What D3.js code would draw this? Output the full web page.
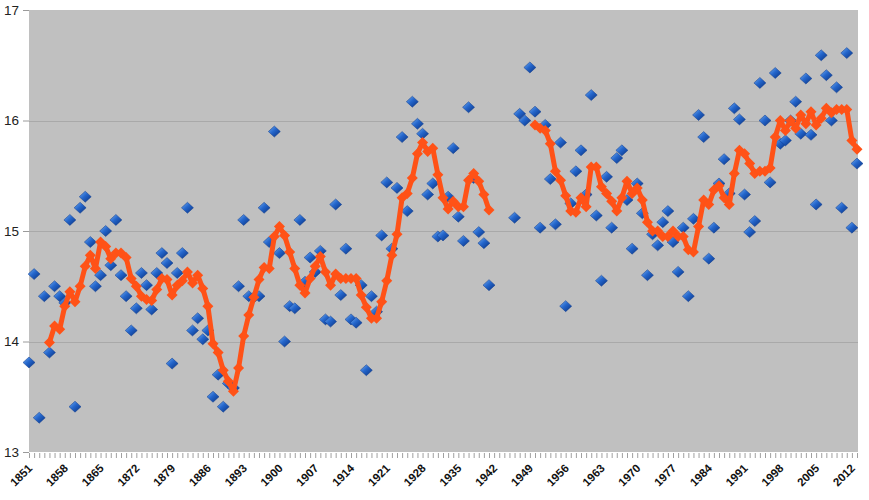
<!DOCTYPE html>
<html>
<head>
<meta charset="utf-8">
<script src="https://cdn.jsdelivr.net/npm/d3@7"></script>
<style>
  body { margin: 0; background: #fff; }
  svg { display: block; }
</style>
</head>
<body>
<svg id="chart" width="869" height="500"></svg>
<script>
// years run 1851 .. 2013, one value per year (null = no data)
const firstYear = 1851;
const lastYear = 2013;

// yearly values (blue diamonds)
const yearly = [
  13.81, 14.61, 13.31, 14.41, 13.90, 14.50, 14.41, 14.35, 15.10, 13.41, // 1851-1860
  15.21, 15.31, 14.90, 14.50, 14.60, 15.00, 14.69, 15.10, 14.60, 14.41, // 1861-1870
  14.10, 14.30, 14.62, 14.51, 14.29, 14.62, 14.80, 14.71, 13.80, 14.62, // 1871-1880
  14.80, 15.21, 14.10, 14.21, 14.02, 14.10, 13.50, 13.70, 13.41, 13.62, // 1881-1890
  13.58, 14.50, 15.10, 14.41, 14.40, 14.41, 15.21, 14.90, 15.90, 14.80, // 1891-1900
  14.00, 14.32, 14.30, 15.10, 14.54, 14.76, 14.63, 14.82, 14.20, 14.18, // 1901-1910
  15.24, 14.42, 14.84, 14.20, 14.17, 14.51, 13.74, 14.41, 14.27, 14.96, // 1911-1920
  15.44, 14.84, 15.39, 15.85, 15.18, 16.17, 15.97, 15.88, 15.33, 15.43, // 1921-1930
  14.95, 14.96, 15.31, 15.75, 15.13, 14.91, 16.12, 15.48, 14.99, 14.89, // 1931-1940
  14.51, null, null, null, null, 15.12, 16.06, 16.00, 16.48, 16.08,     // 1941-1950
  15.03, 15.96, 15.47, 15.06, 15.80, 14.32, 15.25, 15.54, 15.73, 15.33, // 1951-1960
  16.23, 15.14, 14.55, 15.49, 15.03, 15.66, 15.73, 15.28, 14.84, 15.43, // 1961-1970
  15.16, 14.60, 14.97, 14.87, 15.08, 15.18, 14.90, 14.63, 15.03, 14.41, // 1971-1980
  15.11, 16.05, 15.85, 14.75, 15.03, 15.43, 15.65, 15.34, 16.11, 16.01, // 1981-1990
  15.33, 14.99, 15.09, 16.34, 16.00, 15.44, 16.43, 15.79, 15.82, 16.00, // 1991-2000
  16.17, 15.88, 16.38, 15.87, 15.24, 16.59, 16.41, 16.00, 16.30, 15.21, // 2001-2010
  16.61, 15.03, 15.61                                                   // 2011-2013
];

// smoothed values (orange line)
const smoothed = [
  null, null, null, null, 13.99, 14.14, 14.11, 14.32, 14.45, 14.36,     // 1851-1860
  14.50, 14.68, 14.78, 14.66, 14.90, 14.86, 14.75, 14.80, 14.80, 14.76, // 1861-1870
  14.57, 14.50, 14.41, 14.38, 14.37, 14.47, 14.57, 14.56, 14.42, 14.51, // 1871-1880
  14.55, 14.63, 14.53, 14.60, 14.48, 14.32, 13.98, 13.90, 13.74, 13.64, // 1881-1890
  13.55, 13.76, 14.05, 14.24, 14.40, 14.56, 14.67, 14.66, 14.95, 15.04, // 1891-1900
  14.96, 14.81, 14.66, 14.51, 14.44, 14.57, 14.68, 14.77, 14.63, 14.51, // 1901-1910
  14.61, 14.57, 14.57, 14.57, 14.57, 14.42, 14.31, 14.21, 14.21, 14.36, // 1911-1920
  14.55, 14.78, 14.97, 15.30, 15.34, 15.48, 15.70, 15.80, 15.72, 15.75, // 1921-1930
  15.51, 15.30, 15.20, 15.27, 15.22, 15.22, 15.46, 15.52, 15.45, 15.33, // 1931-1940
  15.19, null, null, null, null, null, null, null, null, 15.96,         // 1941-1950
  15.93, 15.91, 15.79, 15.54, 15.46, 15.32, 15.18, 15.17, 15.30, 15.22, // 1951-1960
  15.58, 15.58, 15.40, 15.34, 15.27, 15.18, 15.30, 15.45, 15.34, 15.39, // 1961-1970
  15.28, 15.08, 15.00, 15.00, 14.95, 14.95, 15.00, 14.95, 14.95, 14.83, // 1971-1980
  14.81, 15.04, 15.28, 15.24, 15.37, 15.41, 15.30, 15.24, 15.52, 15.73, // 1981-1990
  15.70, 15.61, 15.52, 15.54, 15.54, 15.57, 15.85, 16.00, 15.91, 16.00, // 1991-2000
  15.93, 16.05, 15.97, 16.08, 15.96, 16.02, 16.11, 16.07, 16.10, 16.10, // 2001-2010
  16.10, 15.82, 15.74                                                   // 2011-2013
];

const yTicks = [13, 14, 15, 16, 17];
const labelStep = 7;

const years = d3.range(firstYear, lastYear + 1);

const svg = d3.select("#chart");
const plot = {left: 29, right: 857, top: 10, bottom: 452};

const x = d3.scaleLinear().domain([firstYear, lastYear]).range([plot.left, plot.right]);
const y = d3.scaleLinear().domain([13, 17]).range([plot.bottom, plot.top]);

// gradient for the glossy blue markers
const defs = svg.append("defs");
const grad = defs.append("linearGradient")
    .attr("id", "blueGrad")
    .attr("x1", "0%").attr("y1", "0%")
    .attr("x2", "100%").attr("y2", "100%");
grad.append("stop").attr("offset", "0%").attr("stop-color", "#78b0f0");
grad.append("stop").attr("offset", "45%").attr("stop-color", "#2466cc");
grad.append("stop").attr("offset", "100%").attr("stop-color", "#08307f");

// plot background
svg.append("rect")
    .attr("x", plot.left)
    .attr("y", plot.top)
    .attr("width", plot.right - plot.left + 1)
    .attr("height", plot.bottom - plot.top)
    .attr("fill", "#c0c0c0");

// horizontal grid lines
svg.append("g")
    .selectAll("line")
    .data(yTicks.filter(d => d > 13 && d < 17))
    .join("line")
    .attr("x1", plot.left)
    .attr("x2", plot.right + 1)
    .attr("y1", d => Math.round(y(d)) + 0.5)
    .attr("y2", d => Math.round(y(d)) + 0.5)
    .attr("stroke", "#a9a9a9")
    .attr("stroke-width", 1);

// y axis
let yAxis = d3.axisLeft(y)
    .tickValues(yTicks)
    .tickSize(6)
    .tickPadding(4)
    .tickFormat(d3.format("d"));
let yAxisG = svg.append("g")
    .attr("transform", "translate(" + plot.left + ",0)")
    .call(yAxis);
yAxisG.select(".domain").remove();
yAxisG.selectAll("line").attr("stroke", "#9a9a9a");
yAxisG.selectAll("text")
    .attr("font-family", "Liberation Sans, Arial, sans-serif")
    .attr("font-size", 13.5)
    .attr("fill", "#222");

// x axis: a tick every year, a label every 7 years
let xAxis = d3.axisBottom(x)
    .tickValues(years)
    .tickSize(5)
    .tickFormat("");
let xAxisG = svg.append("g")
    .attr("transform", "translate(0," + (plot.bottom + 1) + ")")
    .call(xAxis);
xAxisG.select(".domain").remove();
xAxisG.selectAll("line").attr("stroke", "#a0a0a0");

svg.append("g")
    .selectAll("text")
    .data(years.filter(d => (d - firstYear) % labelStep == 0))
    .join("text")
    .attr("transform", d => "translate(" + (x(d) + 4) + "," + (plot.bottom + 17) + ") rotate(-45)")
    .attr("text-anchor", "end")
    .attr("font-family", "Liberation Sans, Arial, sans-serif")
    .attr("font-weight", "bold")
    .attr("font-size", 11.5)
    .attr("fill", "#111")
    .text(d => d);

// yearly diamonds
const pts = years.map((yr, i) => ({year: yr, value: yearly[i]})).filter(d => d.value != null);
svg.append("g")
    .selectAll("path")
    .data(pts)
    .join("path")
    .attr("transform", d => "translate(" + x(d.year) + "," + y(d.value) + ")")
    .attr("d", "M0,-5.5 L6,0 L0,5.5 L-6,0 Z")
    .attr("fill", "url(#blueGrad)")
    .attr("stroke", "#0d3b8e")
    .attr("stroke-width", 0.5);

// smoothed line with diamond markers
const avg = years.map((yr, i) => ({year: yr, value: smoothed[i]}));
const line = d3.line()
    .defined(d => d.value != null)
    .x(d => x(d.year))
    .y(d => y(d.value));

svg.append("path")
    .datum(avg)
    .attr("d", line)
    .attr("fill", "none")
    .attr("stroke", "#ff5217")
    .attr("stroke-width", 5)
    .attr("stroke-linejoin", "round");

svg.append("g")
    .selectAll("path")
    .data(avg.filter(d => d.value != null))
    .join("path")
    .attr("transform", d => "translate(" + x(d.year) + "," + y(d.value) + ")")
    .attr("d", "M0,-5.5 L5.5,0 L0,5.5 L-5.5,0 Z")
    .attr("fill", "#ff5217");
</script>
</body>
</html>
